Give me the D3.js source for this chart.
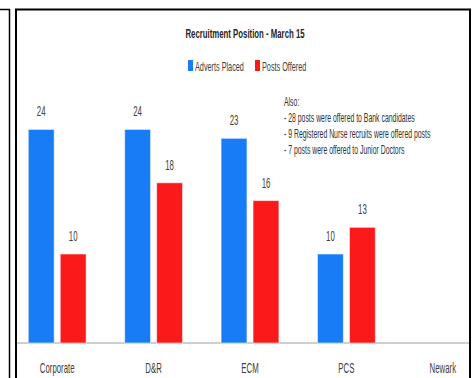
<!DOCTYPE html>
<html>
<head>
<meta charset="utf-8">
<script src="https://cdn.jsdelivr.net/npm/d3@7"></script>
<style>
  html, body { margin: 0; padding: 0; background: #fff; }
  svg { display: block; }
  text { font-family: "Liberation Sans", Arial, sans-serif; }
</style>
</head>
<body>
<svg id="chart" width="476" height="378"></svg>
<script>
const categories = ['Corporate', 'D&R', 'ECM', 'PCS', 'Newark'];
const seriesNames = ['Adverts Placed', 'Posts Offered'];
const advertsPlaced = [24, 24, 23, 10, null];
const postsOffered = [10, 18, 16, 13, null];
const notes = [
  'Also:',
  '- 28 posts were offered to Bank candidates',
  '- 9 Registered Nurse recruits were offered posts',
  '- 7 posts were offered to Junior Doctors'
];

const colors = ['#177cf6', '#fa1a1a'];

const svg = d3.select('#chart');
const baseY = 343;

const x0 = d3.scaleBand()
  .domain(categories)
  .range([9, 491])
  .paddingInner(0.4)
  .paddingOuter(0.2);

const x1 = d3.scaleBand()
  .domain(seriesNames)
  .range([0, x0.bandwidth()])
  .paddingInner(0.19);

const y = d3.scaleLinear()
  .domain([0, 30])
  .range([baseY, baseY - 267]);

const color = d3.scaleOrdinal().domain(seriesNames).range(colors);

// narrow text, like the squashed font in the original
const label = (g, x, yy, str, opts = {}) => g.append('text')
  .attr('transform', `translate(${x},${yy}) scale(${opts.sx || 0.56},1)`)
  .attr('text-anchor', opts.anchor || 'middle')
  .attr('font-size', opts.size || 13)
  .attr('font-weight', opts.weight || 'normal')
  .attr('fill', opts.fill || '#404040')
  .text(str);

/* frames */
svg.append('path')
  .attr('d', 'M0,9.5 H9.5 V378')
  .attr('fill', 'none')
  .attr('stroke', '#000')
  .attr('stroke-width', 1.5);

svg.append('path')
  .attr('d', 'M16,378 V9.5 H470 V378')
  .attr('fill', 'none')
  .attr('stroke', '#000')
  .attr('stroke-width', 2);

const plot = svg.append('g');
const clip = svg.append('clipPath').attr('id', 'plotClip');
clip.append('rect').attr('x', 17).attr('y', 10).attr('width', 452).attr('height', 368);
plot.attr('clip-path', 'url(#plotClip)');

/* baseline */
plot.append('line')
  .attr('x1', 17).attr('x2', 469)
  .attr('y1', baseY).attr('y2', baseY)
  .attr('stroke', '#bfbfbf')
  .attr('stroke-width', 1.5);

/* bars */
const rows = categories.map((c, i) => ({
  cat: c,
  vals: [
    { s: seriesNames[0], v: advertsPlaced[i] },
    { s: seriesNames[1], v: postsOffered[i] }
  ].filter(d => d.v != null)
}));

const groups = plot.selectAll('g.grp')
  .data(rows)
  .join('g')
  .attr('class', 'grp')
  .attr('transform', d => `translate(${x0(d.cat)},0)`);

groups.selectAll('rect')
  .data(d => d.vals)
  .join('rect')
  .attr('x', d => x1(d.s))
  .attr('y', d => y(d.v))
  .attr('width', x1.bandwidth())
  .attr('height', d => baseY - y(d.v))
  .attr('fill', d => color(d.s))
  .attr('stroke', 'rgba(255,255,255,0.55)')
  .attr('stroke-width', 1);

groups.each(function (d) {
  const g = d3.select(this);
  d.vals.forEach(v => {
    label(g, x1(v.s) + x1.bandwidth() / 2, y(v.v) - 13, v.v, { size: 14 });
  });
});

/* category labels */
categories.forEach(c => {
  label(plot, x0(c) + x0.bandwidth() / 2, 373, c, { size: 14 });
});

/* title */
label(svg, 245, 38, 'Recruitment Position - March 15', { size: 13, weight: 'bold', fill: '#262626', sx: 0.6 });

/* legend */
const legendItems = [
  { name: seriesNames[0], box: 188, text: 195 },
  { name: seriesNames[1], box: 255, text: 262 }
];
legendItems.forEach(it => {
  svg.append('rect')
    .attr('x', it.box).attr('y', 60)
    .attr('width', 5).attr('height', 11)
    .attr('fill', color(it.name));
  label(svg, it.text, 71, it.name, { anchor: 'start', size: 13 });
});

/* notes */
notes.forEach((n, i) => {
  label(svg, 284, 106 + i * 16, n, { anchor: 'start', size: 12, fill: '#333', sx: 0.575 });
});
</script>
</body>
</html>
